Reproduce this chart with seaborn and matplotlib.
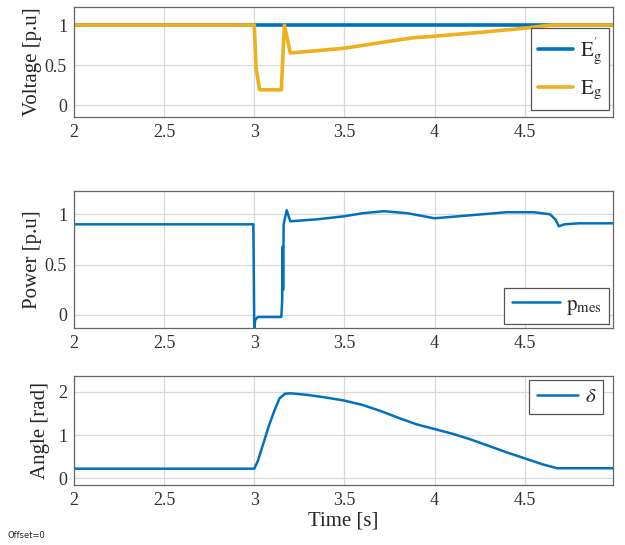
import matplotlib
matplotlib.use("Agg")
import matplotlib.pyplot as plt
import numpy as np
import pandas as pd
import seaborn as sns

# --- data (breakpoints of each trace) ---
t_egp = [2.0, 4.99]
egp = [1.0, 1.0]

t_eg = [2.0, 3.0, 3.01, 3.03, 3.15, 3.167, 3.2, 3.3, 3.5, 3.7, 3.88, 4.0, 4.26, 4.5, 4.65, 4.99]
eg = [1.0, 1.0, 0.46, 0.19, 0.19, 1.0, 0.65, 0.67, 0.71, 0.78, 0.84, 0.86, 0.91, 0.96, 1.0, 1.0]

t_p = [2.0, 2.995, 3.0, 3.005, 3.02, 3.15, 3.155, 3.158, 3.16, 3.163, 3.18, 3.2, 3.35, 3.5, 3.6, 3.72,
       3.85, 4.0, 4.2, 4.4, 4.55, 4.64, 4.67, 4.69, 4.72, 4.8, 4.99]
p_mes = [0.9, 0.9, -0.16, -0.05, -0.02, -0.02, 0.15, 0.68, 0.25, 0.9, 1.04, 0.93, 0.95, 0.98, 1.01, 1.03,
         1.01, 0.96, 0.99, 1.02, 1.02, 1.0, 0.95, 0.88, 0.9, 0.91, 0.91]

t_d = [2.0, 3.0, 3.02, 3.05, 3.08, 3.11, 3.14, 3.17, 3.2, 3.3, 3.4, 3.5, 3.6, 3.7, 3.8, 3.9,
       4.0, 4.1, 4.2, 4.3, 4.4, 4.5, 4.6, 4.68, 4.99]
delta = [0.22, 0.22, 0.4, 0.8, 1.2, 1.55, 1.85, 1.96, 1.97, 1.93, 1.87, 1.8, 1.7, 1.56, 1.4, 1.25,
         1.14, 1.03, 0.9, 0.75, 0.6, 0.46, 0.32, 0.23, 0.23]

xticks = [2, 2.5, 3, 3.5, 4, 4.5]
xticklabels = ["2", "2.5", "3", "3.5", "4", "4.5"]

BLUE = "#0072BD"
YELLOW = "#EDB120"

sns.set_theme(style="whitegrid")
plt.rcParams["font.family"] = ["Liberation Serif", "DejaVu Serif"]
plt.rcParams["mathtext.fontset"] = "stix"

fig = plt.figure(figsize=(6.25, 5.45), dpi=100)
ax1 = fig.add_axes([0.1184, 0.7853, 0.8624, 0.2018])
ax2 = fig.add_axes([0.1184, 0.398, 0.8624, 0.2514])
ax3 = fig.add_axes([0.1184, 0.110, 0.8624, 0.200])

sns.lineplot(x=t_egp, y=egp, ax=ax1, color=BLUE, lw=2.6, sort=False, estimator=None,
             label=r"$\mathrm{E}_\mathrm{g}^{'}$")
sns.lineplot(x=t_eg, y=eg, ax=ax1, color=YELLOW, lw=2.6, sort=False, estimator=None,
             label=r"$\mathrm{E}_\mathrm{g}$")
sns.lineplot(x=t_p, y=p_mes, ax=ax2, color=BLUE, lw=1.8, sort=False, estimator=None,
             label=r"$\mathrm{p}_\mathrm{mes}$")
sns.lineplot(x=t_d, y=delta, ax=ax3, color=BLUE, lw=1.8, sort=False, estimator=None,
             label=r"$\delta$")

ax1.set_ylim(-0.15, 1.225)
ax1.set_yticks([0, 0.5, 1])
ax1.set_yticklabels(["0", "0.5", "1"])
ax1.set_ylabel("Voltage [p.u]", fontsize=15, labelpad=2)

ax2.set_ylim(-0.13, 1.23)
ax2.set_yticks([0, 0.5, 1])
ax2.set_yticklabels(["0", "0.5", "1"])
ax2.set_ylabel("Power [p.u]", fontsize=15, labelpad=2)

ax3.set_ylim(-0.16, 2.37)
ax3.set_yticks([0, 1, 2])
ax3.set_yticklabels(["0", "1", "2"])
ax3.set_ylabel("Angle [rad]", fontsize=15, labelpad=6)
ax3.set_xlabel("Time [s]", fontsize=15, labelpad=2)

for ax in (ax1, ax2, ax3):
    ax.set_xlim(2, 4.99)
    ax.set_xticks(xticks)
    ax.set_xticklabels(xticklabels)
    ax.tick_params(labelsize=13, colors="#333333", direction="in", length=3, pad=5)
    ax.grid(True, color="#d9d9d9", lw=0.9)
    ax.set_facecolor("white")
    for s in ax.spines.values():
        s.set_color("#666666")
        s.set_linewidth(0.9)
    if ax is not ax3:
        ax.set_xlabel("")

leg_kw = dict(frameon=True, fancybox=False, framealpha=1, edgecolor="#555555",
              fontsize=15, borderaxespad=0.2, handletextpad=0.3, borderpad=0.35)
l1 = ax1.legend(loc="lower right", bbox_to_anchor=(1.0, 0.03), labelspacing=0.6,
                handlelength=1.7, **leg_kw)
l2 = ax2.legend(loc="lower right", bbox_to_anchor=(1.0, 0.0), handlelength=2.3, **leg_kw)
l3 = ax3.legend(loc="upper right", bbox_to_anchor=(0.99, 1.0), handlelength=2.0, **leg_kw)
for lg in (l1, l2, l3):
    lg.get_frame().set_linewidth(0.9)

fig.text(0.012, 0.012, "Offset=0", fontsize=6, family="DejaVu Sans")

fig.savefig("out.png", dpi=100)
